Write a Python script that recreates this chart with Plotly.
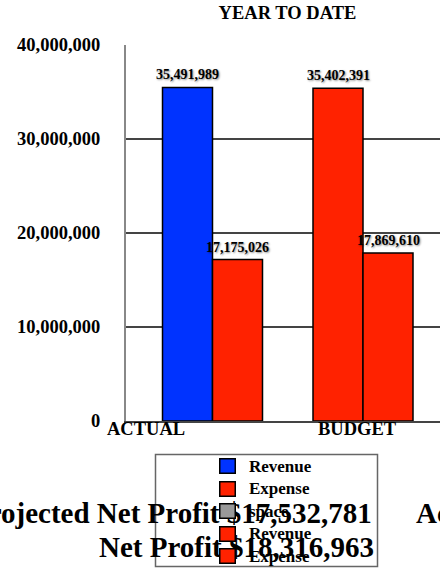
import plotly.graph_objects as go

# ---- data -------------------------------------------------------------
categories = ["ACTUAL", "BUDGET"]
revenue = [35491989, 35402391]
expense = [17175026, 17869610]
y_ticks = [0, 10000000, 20000000, 30000000, 40000000]
legend_labels = ["Revenue", "Expense", "space", "Revenue", "Expense"]

# ---- styling ----------------------------------------------------------
BLUE = "#0033FF"
RED = "#FF2200"
GRAY = "#999999"
SERIF = "Liberation Serif"
revenue_colors = [BLUE, RED]
legend_colors = [BLUE, RED, GRAY, RED, RED]

W, H = 440, 571
L, R, T, B = 126, 0, 45, 150
PLOT_W = W - L - R
PLOT_H = H - T - B

UNIT = 150.5          # pixels between category centres
FIRST_CENTER = 212.5  # pixel x of first category centre
X0 = -(FIRST_CENTER - L) / UNIT
X1 = X0 + PLOT_W / UNIT
BAR_W = 50 / UNIT


def px_x(p):
    return (p - L) / PLOT_W


def px_y(p):
    return (H - B - p) / PLOT_H


def bold(size, color="black", **kw):
    return dict(family=SERIF, size=size, color=color, weight="bold", **kw)


idx = list(range(len(categories)))

fig = go.Figure()
fig.add_trace(go.Bar(
    x=idx, y=revenue, offset=-BAR_W, width=BAR_W, name="Revenue",
    marker=dict(color=revenue_colors, line=dict(color="black", width=1.5)),
    showlegend=False, hoverinfo="skip",
))
fig.add_trace(go.Bar(
    x=idx, y=expense, offset=0, width=BAR_W, name="Expense",
    marker=dict(color=RED, line=dict(color="black", width=1.5)),
    showlegend=False, hoverinfo="skip",
))

annotations = []

# value labels above each bar
label_font = bold(14, shadow="1px 1px 2px rgba(0,0,0,0.45)")
for i, v in zip(idx, revenue):
    annotations.append(dict(x=i - BAR_W / 2, y=v, xref="x", yref="y",
                            text=f"{v:,}", showarrow=False, yanchor="bottom",
                            yshift=3, font=label_font))
for i, v in zip(idx, expense):
    annotations.append(dict(x=i + BAR_W / 2, y=v, xref="x", yref="y",
                            text=f"{v:,}", showarrow=False, yanchor="bottom",
                            yshift=3, font=label_font))

# category labels under the axis
cat_shift = [-67, -5.5]
for i, c, s in zip(idx, categories, cat_shift):
    annotations.append(dict(x=i, y=0, xref="x", yref="paper", text=c,
                            showarrow=False, yanchor="middle", yshift=-8,
                            xshift=s, font=bold(18.5)))

# net profit footer
actual_profit = revenue[0] - expense[0]
projected_profit = revenue[1] - expense[1]
footer_font = bold(29)
annotations.append(dict(x=px_x(374), y=px_y(513), xref="paper", yref="paper",
                        text=f"Projected Net Profit ${projected_profit:,}",
                        showarrow=False, xanchor="right", yanchor="middle",
                        font=footer_font))
annotations.append(dict(x=px_x(414), y=px_y(513), xref="paper", yref="paper",
                        text="Actual", showarrow=False, xanchor="left",
                        yanchor="middle", font=footer_font))
annotations.append(dict(x=px_x(236.5), y=px_y(547), xref="paper", yref="paper",
                        text=f"Net Profit ${actual_profit:,}",
                        showarrow=False, xanchor="center", yanchor="middle",
                        font=footer_font))

# legend: swatches and labels
ROW0, ROW_STEP = 466, 22.6
for k, (lab, col) in enumerate(zip(legend_labels, legend_colors)):
    yc = ROW0 + k * ROW_STEP
    annotations.append(dict(x=px_x(227.5), y=px_y(yc), xref="paper", yref="paper",
                            text=" ", showarrow=False, width=14, height=13,
                            bgcolor=col, bordercolor="black", borderwidth=1.5,
                            borderpad=0, xanchor="center", yanchor="middle",
                            font=dict(size=2)))
    annotations.append(dict(x=px_x(247), y=px_y(yc), xref="paper", yref="paper",
                            text=lab, showarrow=False, xanchor="left",
                            yanchor="middle", font=bold(17)))

shapes = [dict(type="rect", xref="paper", yref="paper",
               x0=px_x(155.5), x1=px_x(377.5), y0=px_y(454.5), y1=px_y(566.5),
               line=dict(color="#666666", width=1.5), fillcolor="rgba(0,0,0,0)",
               layer="below")]

fig.update_layout(
    width=W, height=H,
    margin=dict(l=L, r=R, t=T, b=B, pad=0),
    paper_bgcolor="white", plot_bgcolor="white",
    barmode="overlay",
    showlegend=False,
    title=dict(text="YEAR TO DATE", x=287.5 / W, xref="container", xanchor="center",
               y=1 - 13 / H, yref="container", yanchor="middle", font=bold(18.5)),
    xaxis=dict(range=[X0, X1], showticklabels=False, showgrid=False,
               zeroline=False, showline=True, linecolor="#444444", linewidth=1.5,
               ticks=""),
    yaxis=dict(range=[0, 40000000], tickvals=y_ticks,
               ticktext=[f"{v:,}" for v in y_ticks], tickfont=bold(18.5),
               showgrid=True, gridcolor="#444444", gridwidth=1.5,
               zeroline=False, showline=True, linecolor="#888888", linewidth=2,
               ticks="", ticklabelstandoff=20),
    annotations=annotations,
    shapes=shapes,
)

fig.write_html("out.html")
